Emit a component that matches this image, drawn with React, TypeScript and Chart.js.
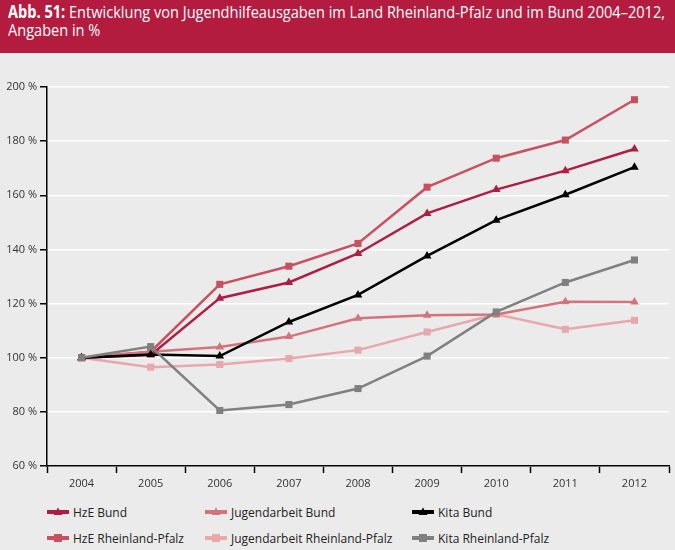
import React, { useEffect, useLayoutEffect, useRef } from "react";
import { Chart, registerables } from "chart.js";

Chart.register(...registerables);

const years = ["2004", "2005", "2006", "2007", "2008", "2009", "2010", "2011", "2012"];
const hzeBund = [100, 101, 122, 127.8, 138.5, 153.3, 162.1, 169.1, 177.1];
const hzeRlp = [100, 102.2, 127.1, 133.8, 142.2, 163, 173.7, 180.4, 195.3];
const jugendBund = [100, 102.2, 104, 107.8, 114.6, 115.7, 116, 120.7, 120.6];
const jugendRlp = [100, 96.5, 97.5, 99.7, 102.8, 109.5, 116, 110.5, 113.8];
const kitaBund = [100, 101.2, 100.6, 113.2, 123.2, 137.6, 150.8, 160.2, 170.4];
const kitaRlp = [100, 104.1, 80.5, 82.7, 88.6, 100.6, 116.9, 127.8, 136.1];

const yMin = 60;
const yMax = 200;
const yStep = 20;

type Series = { label: string; data: number[]; color: string; shape: "triangle" | "rect"; order: number };

const series: Series[] = [
  { label: "HzE Bund", data: hzeBund, color: "#b01d43", shape: "triangle", order: 3 },
  { label: "Jugendarbeit Bund", data: jugendBund, color: "#d3737b", shape: "triangle", order: 4 },
  { label: "Kita Bund", data: kitaBund, color: "#000000", shape: "triangle", order: 2 },
  { label: "HzE Rheinland-Pfalz", data: hzeRlp, color: "#c9515f", shape: "rect", order: 5 },
  { label: "Jugendarbeit Rheinland-Pfalz", data: jugendRlp, color: "#e8a8ab", shape: "rect", order: 6 },
  { label: "Kita Rheinland-Pfalz", data: kitaRlp, color: "#808080", shape: "rect", order: 0 },
];

const FONT = "'Open Sans', 'Noto Sans', sans-serif";
const TITLE_WIDTH = 657;

function LegendMarker({ color, shape }: { color: string; shape: string }) {
  return (
    <svg width={24} height={12} style={{ display: "block" }}>
      <line x1={1} y1={6} x2={23} y2={6} stroke={color} strokeWidth={4} />
      {shape === "rect" ? (
        <rect x={8} y={2} width={8} height={8} fill={color} />
      ) : (
        <polygon points="12,1.5 16.5,9 7.5,9" fill={color} />
      )}
    </svg>
  );
}

export default function App() {
  const canvasRef = useRef<HTMLCanvasElement | null>(null);
  const line1Ref = useRef<HTMLSpanElement | null>(null);
  const line2Ref = useRef<HTMLSpanElement | null>(null);

  useLayoutEffect(() => {
    const l1 = line1Ref.current;
    const l2 = line2Ref.current;
    if (!l1 || !l2) return;
    const w = l1.getBoundingClientRect().width;
    if (w > 0) {
      const k = TITLE_WIDTH / w;
      l1.style.transform = `scaleX(${k})`;
      l2.style.transform = `scaleX(${k})`;
    }
  }, []);

  useEffect(() => {
    if (!canvasRef.current) return;
    const chart = new Chart(canvasRef.current, {
      type: "line",
      data: {
        labels: years,
        datasets: series.map((s) => ({
          label: s.label,
          data: s.data,
          borderColor: s.color,
          backgroundColor: s.color,
          borderWidth: 2.5,
          pointStyle: s.shape,
          pointRadius: 5,
          pointBorderWidth: 0,
          pointBackgroundColor: s.color,
          tension: 0,
          order: s.order,
          clip: false as any,
        })),
      },
      options: {
        animation: false,
        responsive: true,
        maintainAspectRatio: false,
        layout: { padding: { top: 34, right: 6, left: 0, bottom: 0 } },
        plugins: { legend: { display: false }, tooltip: { enabled: false }, title: { display: false } },
        scales: {
          x: {
            type: "category",
            offset: true,
            grid: {
              offset: true,
              drawOnChartArea: false,
              tickColor: "#000",
              tickLength: 7,
              tickWidth: 1.5,
            },
            border: { color: "#000", width: 1.5 },
            ticks: { color: "#333", font: { family: FONT, size: 11 }, padding: 4, autoSkip: false, maxRotation: 0 },
            afterFit: (s: any) => {
              s.height = 29;
            },
          },
          y: {
            min: yMin,
            max: yMax,
            ticks: {
              stepSize: yStep,
              color: "#333",
              font: { family: FONT, size: 11 },
              padding: 3,
              callback: (v: any) => `${v} %`,
            },
            grid: { color: "#ffffff", lineWidth: 1.5, tickColor: "#000", tickLength: 7, tickWidth: 1.5 },
            border: { color: "#000", width: 1.5 },
            afterFit: (s: any) => {
              s.width = 47;
            },
          },
        },
      },
    });
    return () => chart.destroy();
  }, []);

  const colLeft = [46, 204, 411];
  const rowTop = [504, 530];

  const lineStyle: React.CSSProperties = {
    display: "inline-block",
    transformOrigin: "0 0",
    whiteSpace: "nowrap",
  };

  return (
    <div
      style={{
        position: "fixed",
        left: 0,
        top: 0,
        width: 675,
        height: 550,
        background: "#ebebeb",
        overflow: "hidden",
        fontFamily: FONT,
      }}
    >
      <div
        style={{
          position: "absolute",
          left: 0,
          top: 0,
          width: 675,
          height: 53,
          background: "#b41c3f",
          color: "#fff",
          boxSizing: "border-box",
          padding: "3px 0 0 8px",
          fontFamily: FONT,
          fontSize: 17,
          lineHeight: "18px",
          whiteSpace: "nowrap",
        }}
      >
        <div style={{ height: 18 }}>
          <span ref={line1Ref} style={lineStyle}>
            <b>Abb. 51:</b> Entwicklung von Jugendhilfeausgaben im Land Rheinland-Pfalz und im Bund 2004–2012,
          </span>
        </div>
        <div style={{ height: 18 }}>
          <span ref={line2Ref} style={lineStyle}>
            Angaben in %
          </span>
        </div>
      </div>
      <div style={{ position: "absolute", left: 0, top: 53, width: 675, height: 442 }}>
        <canvas ref={canvasRef} />
      </div>
      {series.map((s, i) => {
        const col = i % 3;
        const row = Math.floor(i / 3);
        return (
          <div
            key={s.label}
            style={{
              position: "absolute",
              left: colLeft[col],
              top: rowTop[row],
              height: 16,
              display: "flex",
              alignItems: "center",
              gap: 3,
              fontSize: 12,
              color: "#222",
              whiteSpace: "nowrap",
            }}
          >
            <LegendMarker color={s.color} shape={s.shape} />
            <span>{s.label}</span>
          </div>
        );
      })}
    </div>
  );
}
